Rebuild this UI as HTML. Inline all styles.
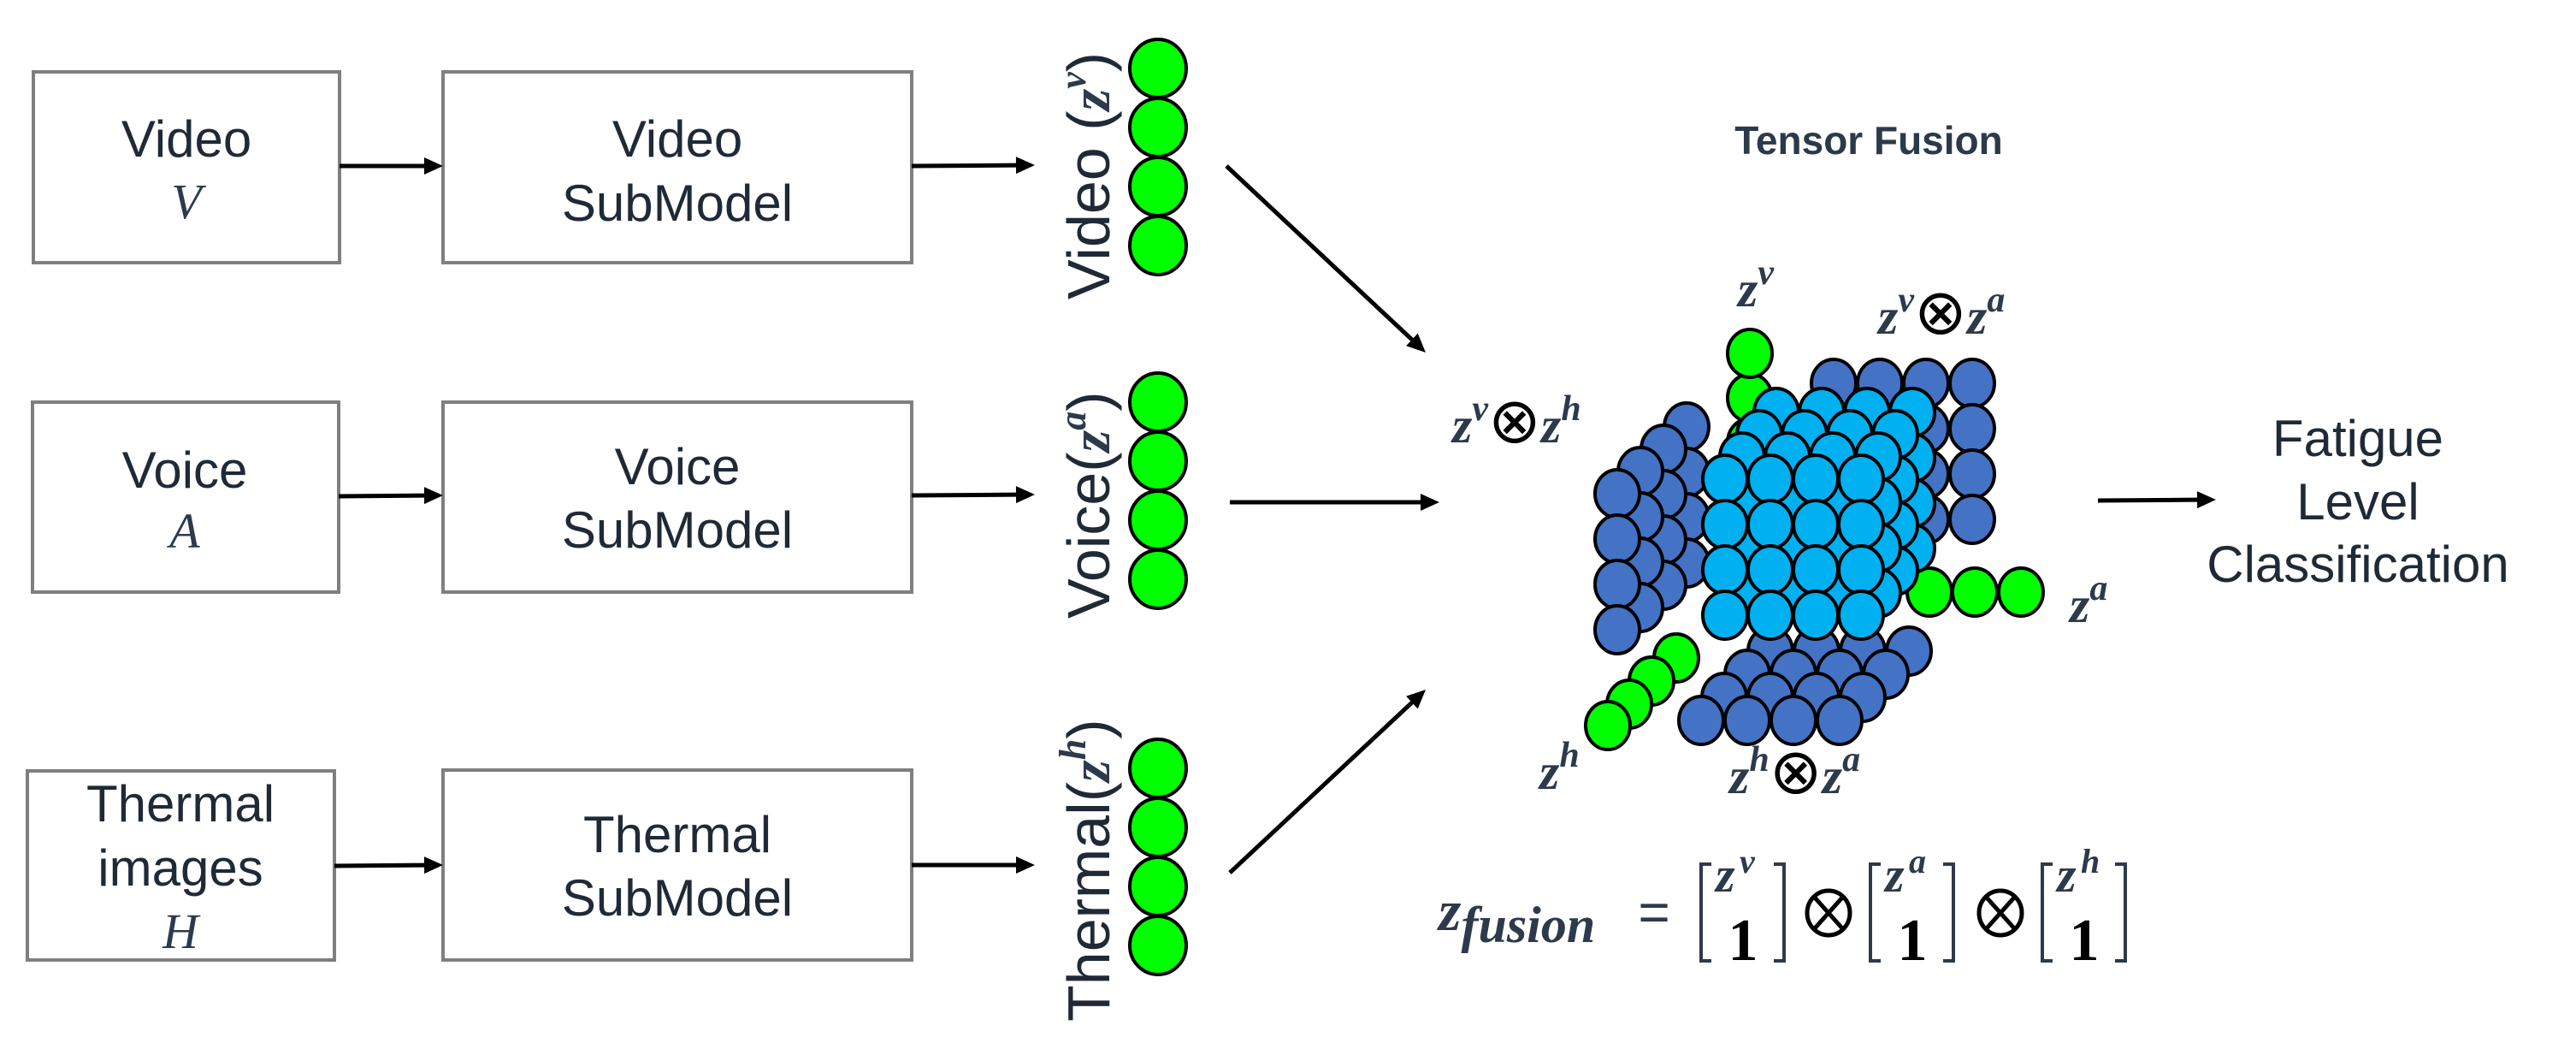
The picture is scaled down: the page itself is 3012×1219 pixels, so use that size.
<!DOCTYPE html>
<html><head><meta charset="utf-8"><style>
html,body{margin:0;padding:0;background:#fff;}
svg{display:block;}
.lbl{font-family:"Liberation Sans",sans-serif;fill:#1f2a36;}
.m{font-family:"Liberation Serif",serif;font-style:italic;font-weight:bold;fill:#2d3a4b;}
.ot{font-family:"DejaVu Sans",sans-serif;font-style:normal;font-weight:normal;fill:#000;}
</style></head><body>
<svg id="fig" width="3012" height="1219" viewBox="0 0 3012 1219" xmlns="http://www.w3.org/2000/svg">
<g id="left">
 <rect x="39" y="84" width="358" height="223" fill="#fff" stroke="#7f7f7f" stroke-width="4"/>
 <text class="lbl" x="218" y="183" font-size="60" text-anchor="middle">Video</text>
 <text x="218" y="255" font-size="58" text-anchor="middle" font-family="Liberation Serif,serif" font-style="italic" fill="#2d3a4b">V</text>
 <rect x="518" y="84" width="548" height="223" fill="#fff" stroke="#7f7f7f" stroke-width="4"/>
 <text class="lbl" x="792" y="183" font-size="60" text-anchor="middle" fill="#000">Video</text>
 <text class="lbl" x="792" y="258" font-size="60" text-anchor="middle" fill="#000">SubModel</text>

 <rect x="38" y="470" width="358" height="222" fill="#fff" stroke="#7f7f7f" stroke-width="4"/>
 <text class="lbl" x="216" y="570" font-size="60" text-anchor="middle">Voice</text>
 <text x="216" y="640" font-size="58" text-anchor="middle" font-family="Liberation Serif,serif" font-style="italic" fill="#2d3a4b">A</text>
 <rect x="518" y="470" width="548" height="222" fill="#fff" stroke="#7f7f7f" stroke-width="4"/>
 <text class="lbl" x="792" y="566" font-size="60" text-anchor="middle" fill="#000">Voice</text>
 <text class="lbl" x="792" y="640" font-size="60" text-anchor="middle" fill="#000">SubModel</text>

 <rect x="32" y="901" width="359" height="221" fill="#fff" stroke="#7f7f7f" stroke-width="4"/>
 <text class="lbl" x="211" y="960" font-size="60" text-anchor="middle">Thermal</text>
 <text class="lbl" x="211" y="1035" font-size="60" text-anchor="middle">images</text>
 <text x="211" y="1108" font-size="58" text-anchor="middle" font-family="Liberation Serif,serif" font-style="italic" fill="#2d3a4b">H</text>
 <rect x="518" y="900" width="548" height="222" fill="#fff" stroke="#7f7f7f" stroke-width="4"/>
 <text class="lbl" x="792" y="996" font-size="60" text-anchor="middle" fill="#000">Thermal</text>
 <text class="lbl" x="792" y="1070" font-size="60" text-anchor="middle" fill="#000">SubModel</text>
</g>
<g id="arrows" stroke="#000" stroke-width="5" fill="#000"></g>
<g id="vecs"></g>
<g>
 <text transform="translate(1297,350) rotate(-90)" font-size="70" class="lbl" fill="#000">Video (<tspan class="m" font-size="66">z</tspan><tspan class="m" font-size="44" dy="-28">v</tspan><tspan dy="28">)</tspan></text>
 <text transform="translate(1297,723) rotate(-90)" font-size="70" class="lbl" fill="#000">Voice(<tspan class="m" font-size="66">z</tspan><tspan class="m" font-size="44" dy="-28">a</tspan><tspan dy="28">)</tspan></text>
 <text transform="translate(1297,1194) rotate(-90)" font-size="70" class="lbl" fill="#000">Thermal(<tspan class="m" font-size="66">z</tspan><tspan class="m" font-size="44" dy="-28">h</tspan><tspan dy="28">)</tspan></text>
</g>
<text x="2185" y="180" font-size="46" font-weight="bold" text-anchor="middle" font-family="Liberation Sans,sans-serif" fill="#2b3a4a">Tensor Fusion</text>
<g id="cube"></g>
<g>
 <text class="m" x="2032" y="358" font-size="60">z<tspan font-size="42" dy="-26">v</tspan></text>
 <text class="m" x="2196" y="390" font-size="60">z<tspan font-size="42" dy="-26">v</tspan><tspan class="ot" font-size="74" dy="26">⊗</tspan>z<tspan font-size="42" dy="-26">a</tspan></text>
 <text class="m" x="1698" y="517" font-size="60">z<tspan font-size="42" dy="-26">v</tspan><tspan class="ot" font-size="74" dy="26">⊗</tspan>z<tspan font-size="42" dy="-26">h</tspan></text>
 <text class="m" x="2420" y="727" font-size="60">z<tspan font-size="42" dy="-26">a</tspan></text>
 <text class="m" x="1800" y="922" font-size="60">z<tspan font-size="42" dy="-26">h</tspan></text>
 <text class="m" x="2022" y="927" font-size="60">z<tspan font-size="42" dy="-26">h</tspan><tspan class="ot" font-size="74" dy="26">⊗</tspan>z<tspan font-size="42" dy="-26">a</tspan></text>
</g>
<g>
 <text class="lbl" x="2757" y="533" font-size="60" text-anchor="middle" fill="#000">Fatigue</text>
 <text class="lbl" x="2757" y="607" font-size="60" text-anchor="middle" fill="#000">Level</text>
 <text class="lbl" x="2757" y="680" font-size="60" text-anchor="middle" fill="#000">Classification</text>
</g>
<g>
 <text class="m" x="1682" y="1087" font-size="68">z<tspan font-size="60" dy="14">fusion</tspan></text>
 <text x="1934" y="1088" font-size="64" text-anchor="middle" font-family="Liberation Sans,sans-serif" fill="#2d3a4b">=</text>
 <g id="vecs2"></g>
</g>
</svg>
<script>
const NS="http://www.w3.org/2000/svg";
function mk(parent,tag,attrs){const e=document.createElementNS(NS,tag);for(const k in attrs)e.setAttribute(k,attrs[k]);parent.appendChild(e);return e;}
const arrowsG=document.getElementById('arrows');
const arrowList=[[397,194,518,194],[1066,194,1210,193],[396,580,518,579],[1066,579,1210,578],[391,1012,518,1011],[1066,1011,1210,1011],
[1434,194,1667,412],[1438,587,1683,587],[1438,1020,1667,806],[2453,585,2591,584]];
arrowList.forEach(a=>{
 const [x1,y1,x2,y2]=a;const ang=Math.atan2(y2-y1,x2-x1);const L=22,W=10;
 const bx=x2-L*Math.cos(ang),by=y2-L*Math.sin(ang);
 const l=mk(arrowsG,'line',{x1:x1,y1:y1,x2:bx,y2:by});
 
 
 const p=mk(arrowsG,'polygon',{points:`${x2},${y2} ${bx+W*Math.sin(ang)},${by-W*Math.cos(ang)} ${bx-W*Math.sin(ang)},${by+W*Math.cos(ang)}`,stroke:'none'});
 
 
});
const vecG=document.getElementById('vecs');
const vecStarts=[80,470,898];
vecStarts.forEach(y0=>{for(let i=0;i<4;i++){
 const c=mk(vecG,'ellipse',{cx:1354,cy:y0+i*69,rx:33,ry:34,fill:'#00ff00',stroke:'#000','stroke-width':4});
 
 
}});
const cube=document.getElementById('cube');
const R=26;
function node(x,y,fill,name){const c=mk(cube,'ellipse',{cx:x,cy:y,rx:R,ry:R+2,fill:fill,stroke:'#000','stroke-width':4});
 
 }
const DB='#4472c4',LB='#00b0f0',G='#00ff00';
for(let r=0;r<4;r++)for(let c=0;c<4;c++)node(2144+c*54,448+r*53,DB,'zv-za-node');
for(let d=3;d>=0;d--)for(let r=0;r<4;r++)node(1891+d*27,577+r*53-d*26,DB,'zv-zh-node');
[517,465,413].forEach(y=>node(2046,y,G,'zv-node'));
for(let d=3;d>=0;d--)for(let c=0;c<4;c++)node(1989+c*54+d*27,842-d*27,DB,'zh-za-node');
node(2256,692,G,'za-node');
for(let d=3;d>=0;d--)for(let r=0;r<4;r++)for(let c=0;c<4;c++)node(2017+c*53+d*20,560+r*53-d*26,LB,'fusion-node');
[2309,2363].forEach(x=>node(x,692,G,'za-node'));
[[1960,769],[1931,796],[1905,823],[1880,848]].forEach(p=>node(p[0],p[1],G,'zh-node'));
const f=document.getElementById('vecs2');
const sups=['v','a','h'];
[1989,2187,2388].forEach((x,i)=>{
 const b=mk(f,'path',{d:`M${x+12},1010 L${x},1010 L${x},1123 L${x+12},1123 M${x+85},1010 L${x+97},1010 L${x+97},1123 L${x+85},1123`,fill:'none',stroke:'#2d3a4b','stroke-width':4});
 
 
 const t=mk(f,'text',{x:x+17,y:1042,'font-size':58,class:'m'});t.textContent='z';
 
 
 const s=mk(f,'text',{x:x+45,y:1020,'font-size':40,class:'m'});s.textContent=sups[i];
 
 
 const o=mk(f,'text',{x:x+49,y:1122,'font-size':70,'font-weight':'bold','text-anchor':'middle','font-family':'Liberation Serif,serif',fill:'#000'});o.textContent='1';
 
 
});
[2138,2339].forEach(x=>{
 const g=mk(f,'g',{stroke:'#000','stroke-width':5,fill:'none'});
 
 
 mk(g,'ellipse',{cx:x,cy:1067,rx:25,ry:26});
 mk(g,'line',{x1:x-17,y1:1048,x2:x+17,y2:1086});
 mk(g,'line',{x1:x+17,y1:1048,x2:x-17,y2:1086});
});
</script>
</body></html>
